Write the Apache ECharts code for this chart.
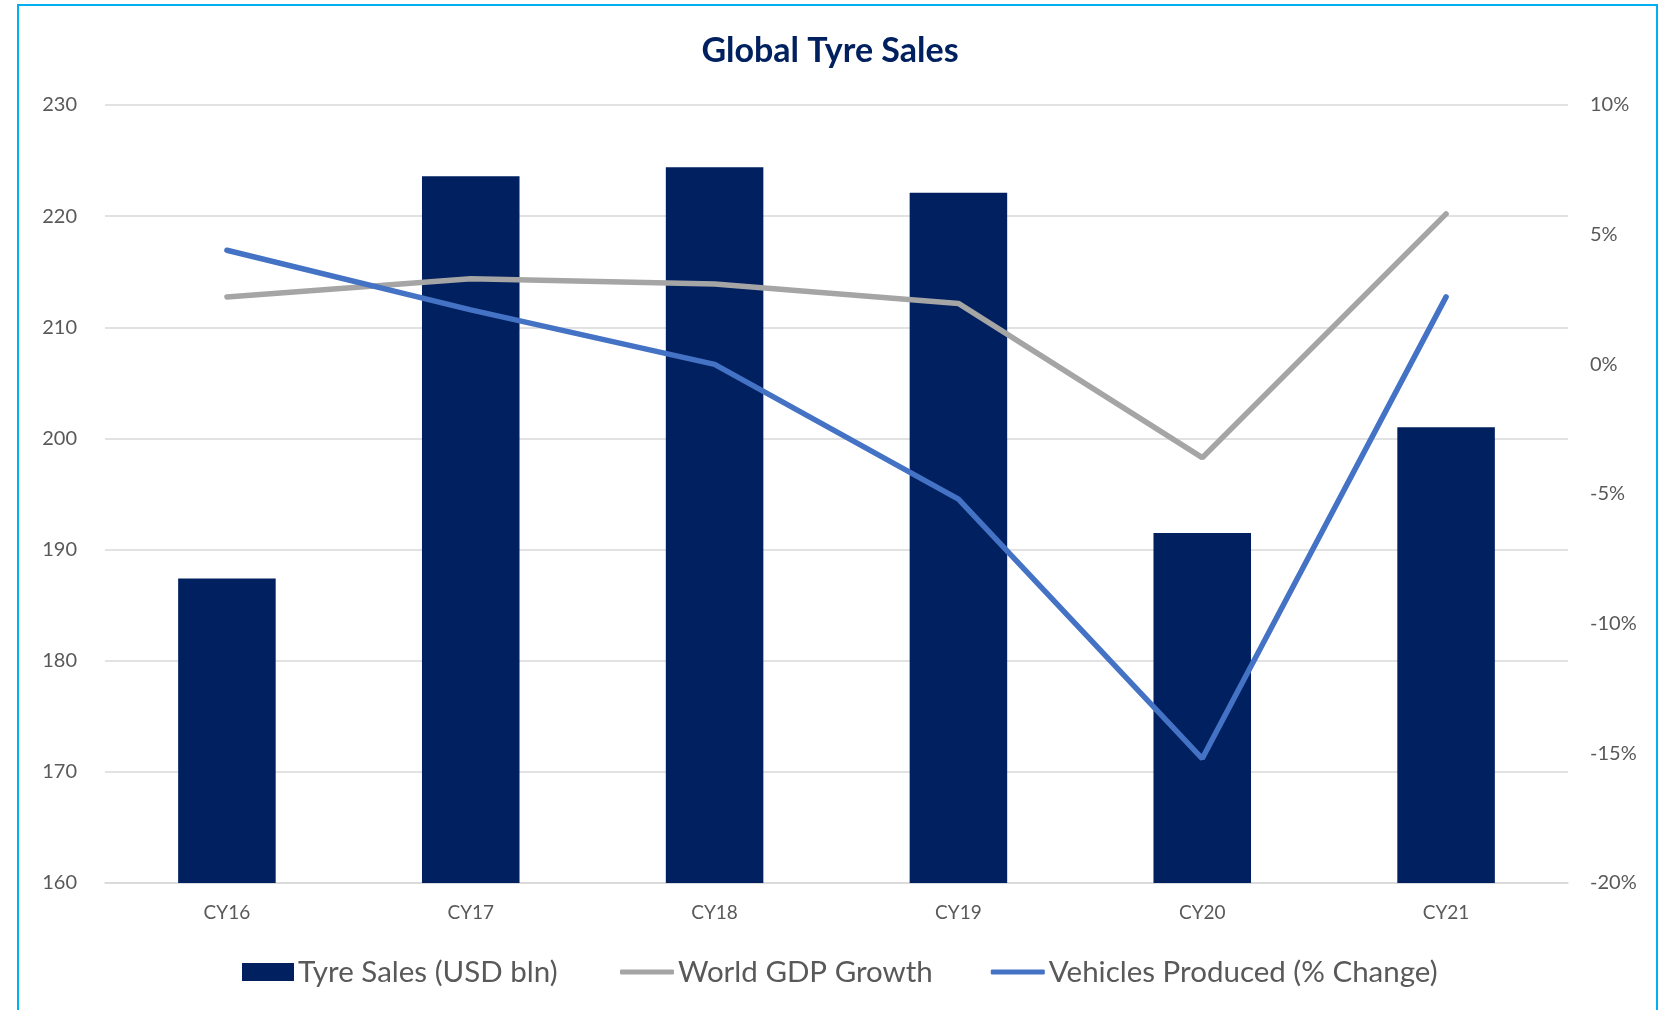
<!DOCTYPE html>
<html>
<head>
<meta charset="utf-8">
<script src="https://cdn.jsdelivr.net/npm/echarts@6/dist/echarts.min.js"></script>
<style>
html,body{margin:0;padding:0;background:#fff;}
#chart{width:1660px;height:1010px;}
</style>
</head>
<body>
<div id="chart"></div>
<script>
var categories = ['CY16', 'CY17', 'CY18', 'CY19', 'CY20', 'CY21'];
var tyreSales = [187.4, 223.6, 224.4, 222.1, 191.5, 201.0];
var gdpGrowth = [2.6, 3.3, 3.1, 2.35, -3.6, 5.8];
var vehiclesChange = [4.4, 2.1, 0.0, -5.2, -15.2, 2.6];
var seriesNames = ['Tyre Sales (USD bln)', 'World GDP Growth', 'Vehicles Produced (% Change)'];

var FONT = 'Lato, "Open Sans", sans-serif';
var legendText = {fontFamily: FONT, fontSize: 29.5, color: '#595959', padding: [0,0,0,-1]};
var chart = echarts.init(document.getElementById('chart'), null, {renderer: 'canvas'});
chart.setOption({
  animation: false,
  backgroundColor: '#ffffff',
  graphic: [{
    type: 'rect',
    shape: {x: 18, y: 5, width: 1639, height: 1020},
    style: {fill: 'none', stroke: '#00B0F0', lineWidth: 2},
    silent: true
  }],
  title: {
    text: 'Global Tyre Sales',
    left: 'center',
    top: 29,
    textStyle: {fontFamily: FONT, fontWeight: 'bold', fontSize: 34, color: '#002060'}
  },
  grid: {left: 105, right: 92, top: 105, bottom: 127, containLabel: false},
  legend: [{
    left: 237,
    top: 952,
    itemWidth: 52,
    itemHeight: 18,
    textStyle: legendText,
    data: [{name: seriesNames[0], icon: 'rect'}]
  }, {
    left: 615,
    top: 952,
    itemWidth: 54,
    itemHeight: 5,
    itemGap: 58,
    textStyle: legendText,
    data: [
      {name: seriesNames[1], icon: 'roundRect'},
      {name: seriesNames[2], icon: 'roundRect'}
    ]
  }],
  xAxis: {
    type: 'category',
    data: categories,
    axisLine: {show: true, onZero: false, lineStyle: {color: '#D9D9D9', width: 1.5}},
    axisTick: {show: false},
    axisLabel: {fontFamily: FONT, fontSize: 19, color: '#595959', margin: 20}
  },
  yAxis: [{
    type: 'value',
    min: 160, max: 230, interval: 10,
    axisLine: {show: false},
    axisTick: {show: false},
    splitLine: {lineStyle: {color: '#D9D9D9', width: 1.5}},
    axisLabel: {fontFamily: FONT, fontSize: 20, color: '#595959', margin: 28}
  }, {
    type: 'value',
    min: -20, max: 10, interval: 5,
    position: 'right',
    axisLine: {show: false},
    axisTick: {show: false},
    splitLine: {show: false},
    axisLabel: {fontFamily: FONT, fontSize: 20, color: '#595959', margin: 22, formatter: '{value}%'}
  }],
  series: [{
    name: seriesNames[0],
    type: 'bar',
    data: tyreSales,
    barWidth: '40%',
    itemStyle: {color: '#002060'},
    yAxisIndex: 0
  }, {
    name: seriesNames[1],
    type: 'line',
    data: gdpGrowth,
    yAxisIndex: 1,
    symbol: 'none',
    lineStyle: {color: '#A5A5A5', width: 5.5, cap: 'round'},
    itemStyle: {color: '#A5A5A5'}
  }, {
    name: seriesNames[2],
    type: 'line',
    data: vehiclesChange,
    yAxisIndex: 1,
    symbol: 'none',
    lineStyle: {color: '#4472C4', width: 5.5, cap: 'round'},
    itemStyle: {color: '#4472C4'}
  }]
});
</script>
</body>
</html>
